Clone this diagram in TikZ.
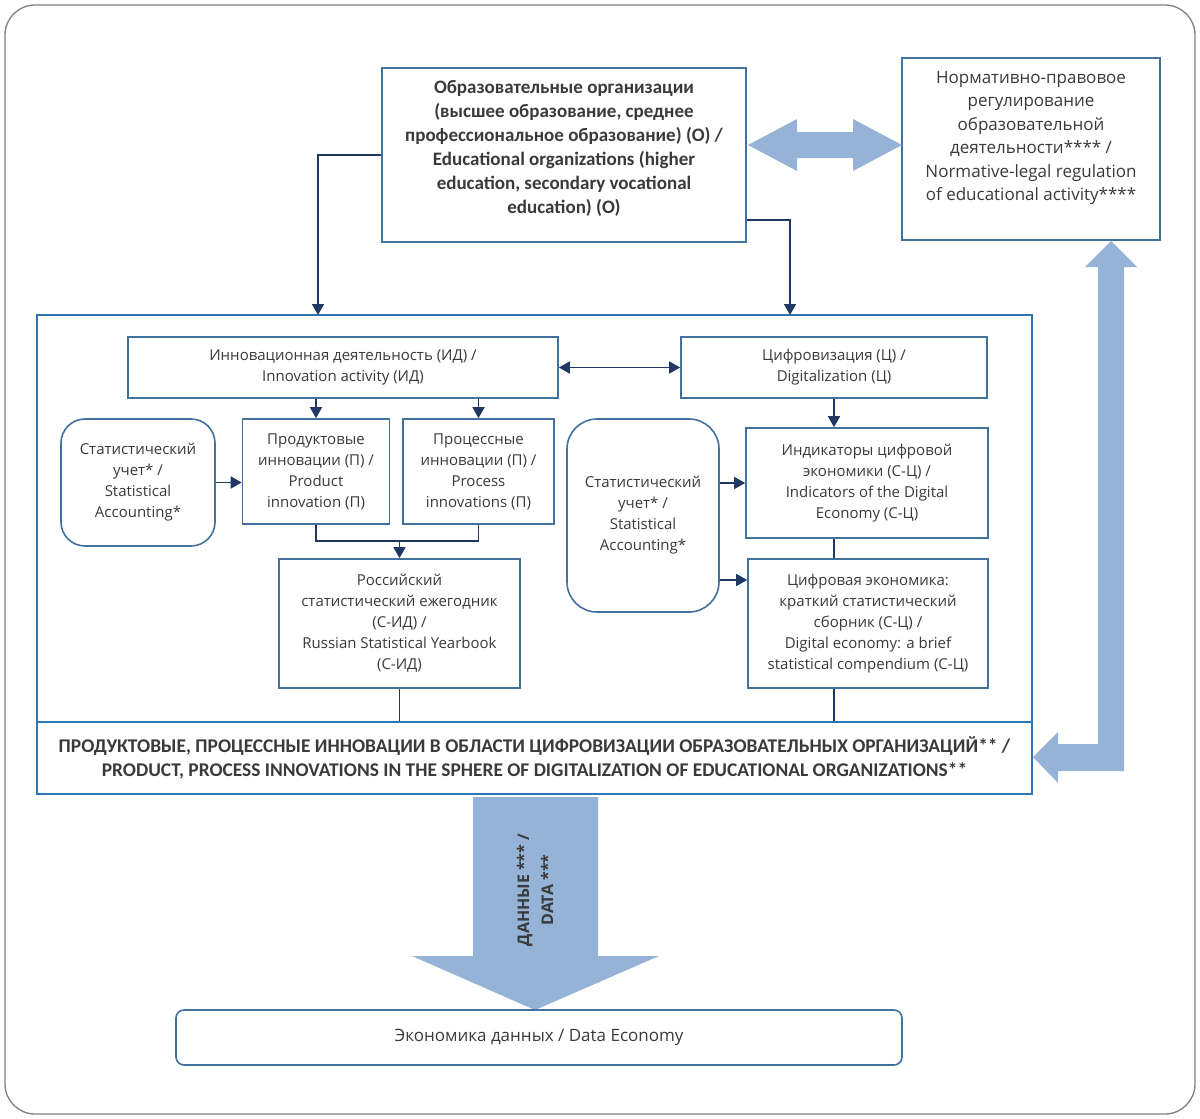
\documentclass[tikz,border=0pt]{standalone}
\usepackage{fontspec}
\setmainfont{Open Sans}
\newfontfamily\calib{Carlito}
\usetikzlibrary{arrows.meta}
\definecolor{bordc}{HTML}{41719C}
\definecolor{contc}{HTML}{2E75B6}
\definecolor{navy}{HTML}{1F3864}
\definecolor{bigc}{HTML}{95B3D7}
\definecolor{txtc}{HTML}{3A3A3A}
\definecolor{framec}{HTML}{7F7F7F}
\begin{document}
\begin{tikzpicture}[x=1pt,y=-1pt,
  box/.style={draw=bordc, line width=1.6pt, fill=white, inner sep=0pt, align=center, text=txtc, font=\fontsize{15}{21}\selectfont},
  rbox/.style={box, rounded corners=24pt},
  txt/.style={inner sep=0pt, align=center, text=txtc},
  conn/.style={draw=navy, line width=1.6pt},
  arr/.style={conn, -{Triangle[length=11pt,width=12pt]}},
  darr/.style={conn, {Triangle[length=11pt,width=12pt]}-{Triangle[length=11pt,width=12pt]}},
  big/.style={fill=bigc, draw=none}]
\useasboundingbox (0,0) rectangle (1200,1119);
\draw[framec, line width=1.3pt, rounded corners=30pt] (5,5) rectangle (1195,1114);

% top boxes
\node[box, minimum width=364pt, minimum height=174pt] (O) at (564,155) {};
\node[txt, font=\calib\bfseries\fontsize{19}{24}\selectfont] (Ot) at (564,148)
  {Образовательные организации\\(высшее образование, среднее\\профессиональное образование) (О) /\\Educational organizations (higher\\education, secondary vocational\\education) (О)};
\node[box, minimum width=258pt, minimum height=182pt] (N) at (1031,149) {};
\node[txt, font=\fontsize{17}{23.5}\selectfont] (Nt) at (1031,138)
  {Нормативно-правовое\\регулирование\\образовательной\\деятельности**** /\\Normative-legal regulation\\of educational activity****};

% big double arrow
\fill[bigc] (748,145) -- (797,119) -- (797,132) -- (853,132) -- (853,119) -- (902,145)
  -- (853,171) -- (853,158) -- (797,158) -- (797,171) -- cycle;
% elbow arrow
\fill[bigc] (1111,241) -- (1137,267) -- (1124,267) -- (1124,771) -- (1058,771) -- (1058,783)
  -- (1033,757) -- (1058,732) -- (1058,744) -- (1098,744) -- (1098,267) -- (1085,267) -- cycle;

% container and bar
\node[draw=contc, line width=2.4pt, minimum width=995pt, minimum height=409pt, inner sep=0pt] (cont) at (534.5,519.5) {};
\node[draw=contc, line width=2.4pt, fill=white, minimum width=995pt, minimum height=72pt, inner sep=0pt, align=center, text=txtc,
  font=\calib\bfseries\fontsize{19.4}{24}\selectfont] (bar) at (534.5,758)
  {ПРОДУКТОВЫЕ, ПРОЦЕССНЫЕ ИННОВАЦИИ В ОБЛАСТИ ЦИФРОВИЗАЦИИ ОБРАЗОВАТЕЛЬНЫХ ОРГАНИЗАЦИЙ** /\\PRODUCT, PROCESS INNOVATIONS IN THE SPHERE OF DIGITALIZATION OF EDUCATIONAL ORGANIZATIONS**};

% coordinates for connectors into container
\coordinate (inL) at (318,315);
\coordinate (inR) at (790,315);
\draw[arr] (O.west) -| (inL);
\draw[arr] ([yshift=-65pt]O.east) -| (inR);

% inner boxes
\node[box, minimum width=430pt, minimum height=61pt] (ID) at (343,367.5) {Инновационная деятельность (ИД) /\\Innovation activity (ИД)};
\node[box, minimum width=306pt, minimum height=61pt] (C) at (834,367.5) {Цифровизация (Ц) /\\Digitalization (Ц)};
\node[box, minimum width=147pt, minimum height=105pt] (Prod) at (316,471.5) {Продуктовые\\инновации (П) /\\Product\\innovation (П)};
\node[box, minimum width=151pt, minimum height=105pt] (Proc) at (478.5,471.5) {Процессные\\инновации (П) /\\Process\\innovations (П)};
\node[rbox, minimum width=154pt, minimum height=127pt] (StatL) at (138,482.5) {Статистический\\учет* /\\Statistical\\Accounting*};
\node[box, minimum width=241pt, minimum height=129pt] (RSY) at (399.5,623.5) {Российский\\статистический ежегодник\\(С-ИД) /\\Russian Statistical Yearbook\\(С-ИД)};
\node[rbox, rounded corners=30pt, minimum width=152pt, minimum height=193pt] (StatR) at (643,515.5) {Статистический\\учет* /\\Statistical\\Accounting*};
\node[box, minimum width=242pt, minimum height=110pt] (Ind) at (867,483) {Индикаторы цифровой\\экономики (С-Ц) /\\Indicators of the Digital\\Economy (С-Ц)};
\node[box, minimum width=240pt, minimum height=129pt] (DE) at (868,623.5) {Цифровая экономика:\\краткий статистический\\сборник (С-Ц) /\\Digital economy: a brief\\statistical compendium (С-Ц)};

% inner connectors
\draw[darr] (ID.east) -- (C.west);
\draw[arr] (Prod.north |- ID.south) -- (Prod.north);
\draw[arr] (Proc.north |- ID.south) -- (Proc.north);
\draw[arr] (StatL.east) -- (StatL.east -| Prod.west);
\draw[conn] (Prod.south) -- ++(0,16) -| (Proc.south);
\draw[arr] ([yshift=-16pt]Prod.south -| RSY.north) -- (RSY.north);
\draw[conn] (RSY.south) -- (RSY.south |- bar.north);
\draw[arr] (C.south) -- (C.south |- Ind.north);
\draw[conn] (C.south |- Ind.south) -- (C.south |- DE.north);
\draw[conn] (C.south |- DE.south) -- (C.south |- bar.north);
\draw[arr] (StatR.east |- Ind.west) -- (Ind.west);
\draw[arr] ([yshift=-64.5pt]StatR.east) -- ([yshift=-64.5pt]StatR.east -| DE.west);

% data arrow
\fill[bigc] (473,797) -- (598,797) -- (598,956) -- (659,956) -- (535,1010) -- (412,956) -- (473,956) -- cycle;
\node[txt, rotate=90, font=\bfseries\fontsize{16}{24}\selectfont] (dat) at (535,890) {ДАННЫЕ *** /\\DATA ***};

% bottom box
\node[box, rounded corners=8pt, minimum width=726pt, minimum height=55pt, font=\fontsize{17}{21}\selectfont] (DEc) at (539,1037.5) {Экономика данных / Data Economy};
\end{tikzpicture}
\end{document}
